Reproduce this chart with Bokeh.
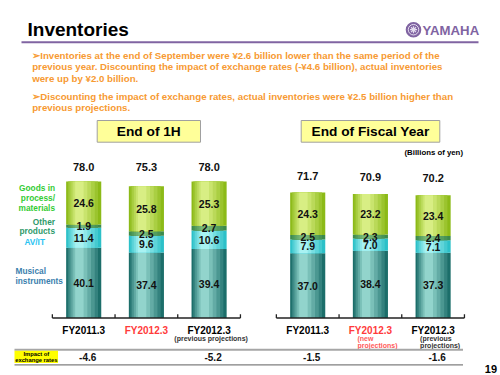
import numpy as np
from bokeh.plotting import figure
from bokeh.models import Range1d
from bokeh.core.properties import value
from bokeh.embed import file_html
from bokeh.resources import INLINE

# ---------------- data (billions of yen) ----------------
categories = ["FY2011.3", "FY2012.3", "FY2012.3"]
h1_notes = ["", "", "(previous  projections)"]
fy_notes = ["", "(new\nprojections)", "(previous\nprojections)"]

h1_musical = [40.1, 37.4, 39.4]
h1_avit = [11.4, 9.6, 10.6]
h1_other = [1.9, 2.5, 2.7]
h1_goods = [24.6, 25.8, 25.3]
h1_totals = [78.0, 75.3, 78.0]

fy_musical = [37.0, 38.4, 37.3]
fy_avit = [7.9, 7.0, 7.1]
fy_other = [2.5, 2.3, 2.4]
fy_goods = [24.3, 23.2, 23.4]
fy_totals = [71.7, 70.9, 70.2]

h1_fx_impact = [-4.6, None, -5.2]
fy_fx_impact = [-1.5, None, -1.6]

bullet_lines = [
    "\u27a2Inventories at the end of September were \u00a52.6 billion lower than the same period of the",
    "previous year. Discounting the impact of exchange rates (-\u00a54.6 billion), actual inventories",
    "were up by \u00a52.0 billion.",
    "\u27a2Discounting the impact of exchange rates, actual inventories were \u00a52.5 billion higher than",
    "previous projections.",
]

# ---------------- style ----------------
FONT = value("Liberation Sans")
W, H = 500, 375
BAR_W = 0.56
GROUP_GAP = 0.573
LAYERS = [1.0, 0.86, 0.72, 0.56, 0.4, 0.24]
SHIFT = 0.09
SEG_COLORS = [("#1c6e6a", "#92d4cc"),   # musical instruments
              ("#2cc0c8", "#a8f2f2"),   # AV/IT
              ("#3b8a4c", "#78b878"),   # other products
              ("#8cba18", "#d8ee84")]   # goods in process / materials
CAT_COLORS = ["#000000", "#ff3b3b", "#000000"]
NOTE_COLORS = ["#000000", "#ff5a5a", "#333333"]
ORANGE = "#f79a32"
PURPLE = "#8064a2"


def mix(c1, c2, t):
    a = [int(c1[i:i + 2], 16) for i in (1, 3, 5)]
    b = [int(c2[i:i + 2], 16) for i in (1, 3, 5)]
    return "#%02x%02x%02x" % tuple(round(a[k] + (b[k] - a[k]) * t) for k in range(3))


p = figure(width=W, height=H, output_backend="svg", toolbar_location=None,
           x_range=Range1d(-1.327, 6.648), y_range=Range1d(-32.86, 181.43),
           x_axis_location=None, y_axis_location=None, min_border=0,
           background_fill_color="white", border_fill_color="white")
p.grid.visible = False
p.outline_line_color = None
# pixel-space ranges for slide decorations
p.extra_x_ranges = {"px": Range1d(0, W)}
p.extra_y_ranges = {"py": Range1d(H, 0)}
PX = dict(x_range_name="px", y_range_name="py")

x_h1 = np.arange(len(categories)).astype(float)
x_fy = x_h1 + len(categories) + GROUP_GAP

groups = [
    (x_h1, [h1_musical, h1_avit, h1_other, h1_goods], h1_totals, h1_notes, h1_fx_impact),
    (x_fy, [fy_musical, fy_avit, fy_other, fy_goods], fy_totals, fy_notes, fy_fx_impact),
]

# ---------- bars ----------
seg_labels = []
for xs, segs, totals, notes, fx in groups:
    bottoms = np.zeros(len(xs))
    for seg, (edge, light) in zip(segs, SEG_COLORS):
        vals = np.array(seg)
        tops = bottoms + vals
        for k, w in enumerate(LAYERS):
            t = k / (len(LAYERS) - 1)
            p.vbar(x=xs - SHIFT * (1 - w), width=BAR_W * w, bottom=bottoms, top=tops,
                   fill_color=mix(edge, light, t), line_color=None)
        seg_labels.append((xs, (bottoms + tops) / 2, [f"{v:.1f}" for v in vals]))
        bottoms = tops

for xs, ys, txt in seg_labels:
    p.text(x=xs, y=ys, text=txt, text_font=FONT, text_font_style="bold",
           text_font_size="10.5px", text_color="#111111",
           text_align="center", text_baseline="middle")

# ---------- totals ----------
p.text(x=x_h1, y=[max(h1_totals)] * len(h1_totals), text=[f"{v:.1f}" for v in h1_totals],
       y_offset=-14.5, text_font=FONT, text_font_style="bold", text_font_size="11px",
       text_color="#111111", text_align="center", text_baseline="middle")
p.text(x=x_fy, y=fy_totals, text=[f"{v:.1f}" for v in fy_totals],
       y_offset=-17, text_font=FONT, text_font_style="bold", text_font_size="11px",
       text_color="#111111", text_align="center", text_baseline="middle")

# ---------- axes (base line + ticks between categories) ----------
for xs, segs, totals, notes, fx in groups:
    p.segment(x0=[xs[0] - 0.5], y0=[0], x1=[xs[-1] + 0.5], y1=[0],
              line_color="#222222", line_width=1.5)
    edges = np.append(xs - 0.5, xs[-1] + 0.5)
    p.segment(x0=edges, y0=np.zeros(len(edges)), x1=edges, y1=np.full(len(edges), 2.2),
              line_color="#222222", line_width=1.3)
    # category labels
    p.text(x=xs, y=[329.7] * len(xs), y_range_name="py", text=categories,
           text_color=CAT_COLORS, text_font=FONT, text_font_style="bold",
           text_font_size="10px", text_align="center", text_baseline="middle")
    # fx impact values
    p.text(x=xs, y=[356.7] * len(xs), y_range_name="py", x_offset=4,
           text=[f"{v:.1f}" if v is not None else "" for v in fx],
           text_color="#111111", text_font=FONT, text_font_style="bold",
           text_font_size="10px", text_align="center", text_baseline="middle")

# category notes
p.text(x=x_h1, y=[338.3] * 3, y_range_name="py", x_offset=3, text=h1_notes,
       text_color=NOTE_COLORS, text_font=FONT, text_font_style="bold",
       text_font_size="7px", text_align="center", text_baseline="middle")
p.text(x=x_fy, y=[334.8] * 3, y_range_name="py", x_offset=-13, text=fy_notes,
       text_color=NOTE_COLORS, text_font=FONT, text_font_style="bold",
       text_font_size="7px", text_align="left", text_baseline="top", text_line_height=0.95)

# ---------------- slide decorations (pixel space) ----------------
# title
p.text(x=[27], y=[29.4], text=["Inventories"], text_font=FONT, text_font_style="bold",
       text_font_size="19px", text_color="#000000", text_baseline="middle", **PX)
p.segment(x0=[21], y0=[41.7], x1=[478], y1=[41.7], line_color=PURPLE, line_width=2, **PX)
# logo
p.scatter(x=[413], y=[29.2], size=15.6, fill_color=PURPLE, line_color=None, **PX)
p.scatter(x=[413], y=[29.2], size=10.5, fill_color=None, line_color="#e4dcef", line_width=1, **PX)
p.scatter(x=[413], y=[29.2], size=7, marker="asterisk", line_color="#e4dcef", line_width=1.2, **PX)
p.text(x=[422], y=[29.6], text=["YAMAHA"], text_font=FONT,
       text_font_style="bold", text_font_size="13.2px", text_color=PURPLE,
       text_baseline="middle", **PX)

# bullet text
p.text(x=[31.7] * 5, y=[54.6, 66.2, 77.6, 95.6, 107.0], text=bullet_lines,
       text_font=FONT, text_font_style="bold", text_font_size="9.7px",
       text_color=ORANGE, text_baseline="middle", **PX)

# section headers
p.quad(left=[96.7, 300.7], right=[200, 439.3], top=[120, 120], bottom=[141.7, 141.7],
       fill_color="#ffff99", line_color="#a0a0a0", line_width=1, **PX)
p.text(x=[148.3, 370], y=[131.2, 131.2], text=["End of 1H", "End of Fiscal Year"],
       text_font=FONT, text_font_style="bold", text_font_size="13.7px",
       text_color="#000000", text_align="center", text_baseline="middle", **PX)
p.text(x=[404], y=[152], text=["(Billions  of yen)"], text_font=FONT,
       text_font_style="bold", text_font_size="7.8px", text_color="#000000",
       text_baseline="middle", **PX)

# segment legend (left)
p.text(x=[54.5] * 5, y=[187.7, 197.5, 207.3, 221.7, 230.0],
       text=["Goods in", "process/", "materials", "Other", "products"],
       text_color=["#33cc33", "#33cc33", "#33cc33", "#2e9a6a", "#2e9a6a"],
       text_font=FONT, text_font_style="bold", text_font_size="8.3px",
       text_align="right", text_baseline="middle", **PX)
p.text(x=[34.2], y=[241.7], text=["AV/IT"], text_color="#29c3f2", text_font=FONT,
       text_font_style="bold", text_font_size="8.3px", text_align="center",
       text_baseline="middle", **PX)
p.text(x=[15, 15], y=[270, 280], text=["Musical", "instruments"], text_color="#3b7fae",
       text_font=FONT, text_font_style="bold", text_font_size="8.3px",
       text_align="left", text_baseline="middle", **PX)

# exchange-rate impact row
p.segment(x0=[14], y0=[349.3], x1=[462.5], y1=[349.3], line_color="#a6a6a6", line_width=2, **PX)
p.segment(x0=[14], y0=[364.3], x1=[462.5], y1=[364.3], line_color="#7f7f7f", line_width=1.3, **PX)
p.quad(left=[14], right=[57.5], top=[350.3], bottom=[362.6], fill_color="#ffff00",
       line_color=None, **PX)
p.text(x=[35.8, 35.8], y=[353.4, 359.4], text=["Impact of", "exchange rates"],
       text_font=FONT, text_font_style="bold", text_font_size="5.8px",
       text_color="#000000", text_align="center", text_baseline="middle", **PX)

# page number
p.text(x=[496.5], y=[368.8], text=["19"], text_font=FONT, text_font_style="bold",
       text_font_size="11px", text_color="#000000", text_align="right",
       text_baseline="middle", **PX)

open("out.html", "w").write(file_html(p, INLINE))
